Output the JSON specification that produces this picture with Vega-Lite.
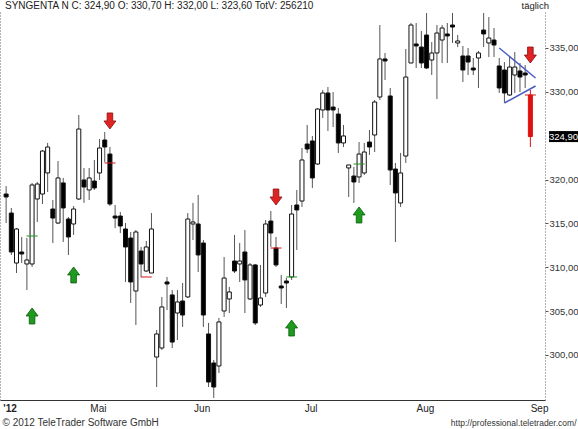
{
  "$schema": "https://vega.github.io/schema/vega-lite/v6.json",
  "width": 545,
  "height": 388,
  "autosize": {"type": "none"},
  "padding": {"left": 0, "top": 12, "right": 33, "bottom": 29},
  "background": "white",
  "config": {"view": {"stroke": null}, "font": "Liberation Sans"},
  "title": {"text": "SYNGENTA N C: 324,90 O: 330,70 H: 332,00 L: 323,60 TotV: 256210", "anchor": "start", "frame": "group", "offset": 1, "dy": 12, "fontSize": 10, "fontWeight": "normal", "color": "#222", "dx": 5, "font": "Liberation Sans"},
  "datasets": {
    "candles": [
      {"date":"2012-04-04","open":318.35,"high":319.26,"low":315.04,"close":318.01},
      {"date":"2012-04-05","open":316.18,"high":316.76,"low":311.40,"close":311.74},
      {"date":"2012-04-10","open":310.48,"high":314.47,"low":309.34,"close":314.36},
      {"date":"2012-04-11","open":311.74,"high":313.45,"low":310.48,"close":311.51},
      {"date":"2012-04-12","open":310.37,"high":313.33,"low":307.40,"close":310.83},
      {"date":"2012-04-13","open":310.37,"high":319.61,"low":310.03,"close":319.38},
      {"date":"2012-04-16","open":317.78,"high":319.72,"low":315.16,"close":319.49},
      {"date":"2012-04-17","open":318.35,"high":323.37,"low":317.21,"close":323.25},
      {"date":"2012-04-18","open":320.75,"high":324.17,"low":318.58,"close":323.71},
      {"date":"2012-04-19","open":316.64,"high":317.67,"low":312.76,"close":315.61},
      {"date":"2012-04-20","open":315.04,"high":322.11,"low":314.93,"close":320.18},
      {"date":"2012-04-23","open":319.61,"high":320.18,"low":312.88,"close":316.76},
      {"date":"2012-04-24","open":315.50,"high":315.73,"low":311.40,"close":313.45},
      {"date":"2012-04-25","open":314.93,"high":316.98,"low":313.68,"close":316.64},
      {"date":"2012-04-26","open":317.78,"high":327.36,"low":317.67,"close":325.76},
      {"date":"2012-04-27","open":319.95,"high":321.32,"low":317.33,"close":319.15},
      {"date":"2012-04-30","open":318.81,"high":321.32,"low":317.67,"close":320.18},
      {"date":"2012-05-02","open":319.83,"high":322.23,"low":318.81,"close":319.04},
      {"date":"2012-05-03","open":320.75,"high":324.62,"low":319.95,"close":323.60},
      {"date":"2012-05-04","open":324.51,"high":325.42,"low":322.00,"close":323.71},
      {"date":"2012-05-07","open":322.91,"high":323.71,"low":316.98,"close":317.21},
      {"date":"2012-05-08","open":315.84,"high":317.10,"low":314.47,"close":315.61},
      {"date":"2012-05-09","open":315.84,"high":316.30,"low":313.90,"close":314.70},
      {"date":"2012-05-10","open":314.36,"high":315.04,"low":308.32,"close":312.31},
      {"date":"2012-05-11","open":313.33,"high":314.02,"low":305.92,"close":308.32},
      {"date":"2012-05-14","open":307.29,"high":314.25,"low":303.41,"close":314.02},
      {"date":"2012-05-15","open":311.85,"high":312.31,"low":308.89,"close":310.37},
      {"date":"2012-05-16","open":309.57,"high":312.99,"low":309.46,"close":312.31},
      {"date":"2012-05-18","open":309.34,"high":316.18,"low":309.34,"close":314.36},
      {"date":"2012-05-21","open":299.76,"high":302.84,"low":296.34,"close":302.39},
      {"date":"2012-05-22","open":300.79,"high":306.61,"low":300.56,"close":305.47},
      {"date":"2012-05-23","open":308.32,"high":308.89,"low":305.12,"close":308.09},
      {"date":"2012-05-24","open":306.84,"high":307.40,"low":300.79,"close":301.47},
      {"date":"2012-05-25","open":304.78,"high":307.40,"low":301.70,"close":306.04},
      {"date":"2012-05-29","open":306.15,"high":308.20,"low":303.19,"close":304.55},
      {"date":"2012-05-30","open":306.61,"high":316.18,"low":306.49,"close":315.50},
      {"date":"2012-05-31","open":314.93,"high":317.33,"low":313.11,"close":315.16},
      {"date":"2012-06-01","open":314.93,"high":318.24,"low":309.46,"close":311.40},
      {"date":"2012-06-04","open":312.76,"high":313.11,"low":303.19,"close":304.55},
      {"date":"2012-06-05","open":302.39,"high":303.64,"low":296.34,"close":296.91},
      {"date":"2012-06-06","open":299.08,"high":299.42,"low":295.09,"close":296.34},
      {"date":"2012-06-07","open":298.74,"high":304.21,"low":297.94,"close":303.76},
      {"date":"2012-06-08","open":305.01,"high":311.17,"low":304.33,"close":308.77},
      {"date":"2012-06-11","open":306.38,"high":307.75,"low":304.78,"close":307.18},
      {"date":"2012-06-12","open":310.71,"high":313.68,"low":309.34,"close":309.57},
      {"date":"2012-06-13","open":310.37,"high":312.76,"low":308.32,"close":310.71},
      {"date":"2012-06-14","open":311.74,"high":314.25,"low":304.78,"close":308.55},
      {"date":"2012-06-15","open":306.38,"high":310.48,"low":306.27,"close":310.26},
      {"date":"2012-06-18","open":310.26,"high":310.37,"low":303.41,"close":303.64},
      {"date":"2012-06-19","open":305.69,"high":310.26,"low":305.47,"close":306.49},
      {"date":"2012-06-20","open":307.06,"high":315.39,"low":306.61,"close":314.93},
      {"date":"2012-06-21","open":315.27,"high":316.41,"low":312.31,"close":313.90},
      {"date":"2012-06-22","open":312.19,"high":313.45,"low":310.03,"close":310.26},
      {"date":"2012-06-25","open":307.86,"high":309.12,"low":305.81,"close":307.63},
      {"date":"2012-06-26","open":308.43,"high":308.77,"low":305.35,"close":308.20},
      {"date":"2012-06-27","open":308.89,"high":317.10,"low":308.55,"close":316.07},
      {"date":"2012-06-28","open":317.10,"high":318.81,"low":311.97,"close":316.53},
      {"date":"2012-06-29","open":317.55,"high":323.60,"low":316.87,"close":322.23},
      {"date":"2012-07-02","open":324.05,"high":326.22,"low":323.03,"close":323.48},
      {"date":"2012-07-03","open":324.40,"high":324.97,"low":319.04,"close":320.18},
      {"date":"2012-07-04","open":321.77,"high":328.16,"low":321.66,"close":328.04},
      {"date":"2012-07-05","open":327.93,"high":330.21,"low":327.02,"close":329.87},
      {"date":"2012-07-06","open":329.87,"high":330.55,"low":325.54,"close":327.93},
      {"date":"2012-07-09","open":328.27,"high":329.98,"low":325.99,"close":327.93},
      {"date":"2012-07-10","open":327.47,"high":328.16,"low":323.03,"close":324.17},
      {"date":"2012-07-11","open":324.17,"high":326.22,"low":323.71,"close":324.97},
      {"date":"2012-07-12","open":321.32,"high":321.66,"low":318.01,"close":321.66},
      {"date":"2012-07-13","open":320.40,"high":321.43,"low":317.33,"close":319.72},
      {"date":"2012-07-16","open":320.29,"high":324.28,"low":319.61,"close":322.91},
      {"date":"2012-07-17","open":320.75,"high":324.17,"low":320.52,"close":323.14},
      {"date":"2012-07-18","open":324.28,"high":325.65,"low":322.80,"close":323.71},
      {"date":"2012-07-19","open":325.08,"high":329.07,"low":323.14,"close":328.84},
      {"date":"2012-07-20","open":329.41,"high":337.62,"low":329.07,"close":333.75},
      {"date":"2012-07-23","open":333.75,"high":334.43,"low":331.35,"close":333.52},
      {"date":"2012-07-24","open":329.53,"high":330.44,"low":319.38,"close":321.09},
      {"date":"2012-07-25","open":321.20,"high":321.89,"low":312.88,"close":318.47},
      {"date":"2012-07-26","open":317.33,"high":323.03,"low":316.87,"close":320.75},
      {"date":"2012-07-27","open":322.68,"high":334.89,"low":321.89,"close":331.69},
      {"date":"2012-07-30","open":333.29,"high":337.85,"low":333.29,"close":337.62},
      {"date":"2012-07-31","open":335.46,"high":337.85,"low":332.72,"close":335.23},
      {"date":"2012-08-02","open":335.11,"high":336.94,"low":332.72,"close":333.29},
      {"date":"2012-08-03","open":336.48,"high":338.99,"low":332.60,"close":332.72},
      {"date":"2012-08-06","open":333.63,"high":335.68,"low":331.92,"close":334.43},
      {"date":"2012-08-07","open":334.43,"high":337.62,"low":329.18,"close":336.71},
      {"date":"2012-08-08","open":335.91,"high":337.62,"low":333.29,"close":337.28},
      {"date":"2012-08-09","open":336.60,"high":337.85,"low":333.29,"close":336.37},
      {"date":"2012-08-10","open":337.62,"high":338.99,"low":335.57,"close":337.39},
      {"date":"2012-08-13","open":335.57,"high":336.48,"low":335.11,"close":335.80},
      {"date":"2012-08-14","open":334.09,"high":335.23,"low":331.12,"close":332.49},
      {"date":"2012-08-15","open":334.09,"high":335.00,"low":331.92,"close":333.40},
      {"date":"2012-08-16","open":332.72,"high":333.86,"low":331.92,"close":332.49},
      {"date":"2012-08-17","open":333.86,"high":334.66,"low":330.44,"close":334.43},
      {"date":"2012-08-20","open":337.05,"high":338.99,"low":335.11,"close":336.60},
      {"date":"2012-08-21","open":335.57,"high":338.53,"low":333.97,"close":336.14},
      {"date":"2012-08-22","open":335.91,"high":337.28,"low":333.97,"close":335.34},
      {"date":"2012-08-23","open":332.95,"high":333.86,"low":329.87,"close":330.44},
      {"date":"2012-08-24","open":332.49,"high":333.40,"low":328.73,"close":329.87},
      {"date":"2012-08-27","open":329.64,"high":333.97,"low":329.53,"close":332.83},
      {"date":"2012-08-28","open":331.92,"high":334.54,"low":329.87,"close":332.83},
      {"date":"2012-08-29","open":332.38,"high":333.29,"low":329.98,"close":331.69},
      {"date":"2012-08-30","open":332.15,"high":333.06,"low":330.44,"close":331.92},
      {"date":"2012-08-31","open":329.64,"high":330.21,"low":323.71,"close":324.90}
    ],
    "signals": [
      {"date":"2012-04-13","kind":"buy","price":304.44},
      {"date":"2012-04-25","kind":"buy","price":309.12},
      {"date":"2012-05-07","kind":"sell","price":326.68},
      {"date":"2012-06-22","kind":"sell","price":318.01},
      {"date":"2012-06-27","kind":"buy","price":303.07},
      {"date":"2012-07-16","kind":"buy","price":315.96},
      {"date":"2012-08-31","kind":"sell","price":334.20}
    ],
    "levels": [
      {"date":"2012-04-13","kind":"buy","price":313.56},
      {"date":"2012-05-07","kind":"sell","price":321.89},
      {"date":"2012-05-16","kind":"sell","price":308.89},
      {"date":"2012-06-22","kind":"sell","price":312.19},
      {"date":"2012-06-27","kind":"buy","price":308.89},
      {"date":"2012-07-16","kind":"buy","price":321.77},
      {"date":"2012-08-31","kind":"sell","price":329.64}
    ],
    "trend": [
      {"date":"2012-08-23","price":335.0,"date2":"2012-09-03","price2":331.58},
      {"date":"2012-08-24","price":328.73,"date2":"2012-09-03","price2":330.67}
    ],
    "last": [
      {"date":"2012-09-03","price":324.9,"label":"324,90"}
    ]
  },
  "resolve": {"axis": {"y": "independent"}},
  "layer": [
    {
      "data": {"name": "candles"},
      "mark": {"type": "rule", "strokeWidth": 1},
      "encoding": {
        "x": {"field": "date", "type": "ordinal",
          "scale": {"paddingInner": 0, "paddingOuter": 1.35, "align": 0.34},
          "axis": {
            "values": ["2012-04-04","2012-05-02","2012-06-01","2012-07-02","2012-08-02","2012-09-03"],
            "labelExpr": "datum.value == '2012-04-04' ? \"'12\" : datum.value == '2012-05-02' ? 'Mai' : datum.value == '2012-06-01' ? 'Jun' : datum.value == '2012-07-02' ? 'Jul' : datum.value == '2012-08-02' ? 'Aug' : 'Sep'",
            "labelFontWeight": {"condition": {"test": "datum.value == '2012-04-04'", "value": "bold"}, "value": "normal"},
            "ticks": false, "grid": false, "domainColor": "#333", "domainWidth": 1,
            "labelAngle": 0, "labelAlign": "center", "labelOffset": 4, "labelPadding": 3, "labelFontSize": 10, "labelFont": "Liberation Sans", "labelColor": "#222",
            "labelOverlap": false, "labelBound": false,
            "title": "© 2012 TeleTrader Software GmbH", "titleX": 2, "titleY": 25, "titleAlign": "left", "titleAnchor": "start", "titleBaseline": "alphabetic",
            "titleFontSize": 10, "titleFontWeight": "normal", "titleFont": "Liberation Sans", "titleColor": "#333"
          }
        },
        "y": {"field": "low", "type": "quantitative",
          "scale": {"domain": [294.86, 339.105], "nice": false, "zero": false},
          "axis": {"orient": "left", "labels": false, "ticks": false, "grid": false, "domainDash": [1, 2], "domainColor": "#666",
            "title": "täglich", "titleAngle": 0, "titleX": 521, "titleY": -2, "titleAlign": "left", "titleBaseline": "bottom",
            "titleFontSize": 9.5, "titleFontWeight": "normal", "titleFont": "Liberation Sans", "titleColor": "#222"}
        },
        "y2": {"field": "high"},
        "color": {"condition": {"test": "datum.date == '2012-08-31'", "value": "#e01010"}, "value": "#555555"}
      }
    },
    {
      "data": {"name": "candles"},
      "mark": {"type": "bar", "size": 4, "strokeWidth": 1},
      "encoding": {
        "x": {"field": "date", "type": "ordinal"},
        "y": {"field": "open", "type": "quantitative",
          "axis": {"orient": "right", "values": [300, 305, 310, 315, 320, 330, 335],
            "labelExpr": "replace(format(datum.value, '.2f'), '.', ',')",
            "ticks": true, "tickSize": 3, "tickColor": "#555", "domainDash": [1, 2], "domainColor": "#666", "grid": false,
            "labelPadding": 1, "labelFontSize": 9.5, "labelFont": "Liberation Sans", "labelColor": "#333",
            "title": "http://professional.teletrader.com/", "titleAngle": 0, "titleX": 31, "titleY": 413, "titleAlign": "right", "titleBaseline": "alphabetic",
            "titleFontSize": 8.5, "titleFontWeight": "normal", "titleFont": "Liberation Sans", "titleColor": "#333"}
        },
        "y2": {"field": "close"},
        "fill": {"condition": [
          {"test": "datum.date == '2012-08-31'", "value": "#e01010"},
          {"test": "datum.close >= datum.open", "value": "#ffffff"}
        ], "value": "#000000"},
        "stroke": {"condition": {"test": "datum.date == '2012-08-31'", "value": "#e01010"}, "value": "#111111"}
      }
    },
    {
      "data": {"name": "levels"},
      "mark": {"type": "tick", "size": 11, "thickness": 1.5},
      "encoding": {
        "x": {"field": "date", "type": "ordinal"},
        "y": {"field": "price", "type": "quantitative", "axis": null},
        "color": {"condition": {"test": "datum.kind == 'buy'", "value": "#2a9a2a"}, "value": "#d42020"}
      }
    },
    {
      "data": {"name": "trend"},
      "mark": {"type": "rule", "strokeWidth": 1.5, "color": "#4a5cc4"},
      "encoding": {
        "x": {"field": "date", "type": "ordinal"},
        "x2": {"field": "date2"},
        "y": {"field": "price", "type": "quantitative", "axis": null},
        "y2": {"field": "price2"}
      }
    },
    {
      "data": {"name": "signals"},
      "mark": {"type": "point", "filled": true, "size": 256, "strokeWidth": 0.8, "opacity": 1},
      "encoding": {
        "x": {"field": "date", "type": "ordinal"},
        "y": {"field": "price", "type": "quantitative", "axis": null},
        "shape": {"condition": {"test": "datum.kind == 'buy'", "value": "M-0.35,1L0.35,1L0.35,0L0.75,0L0,-1L-0.75,0L-0.35,0Z"}, "value": "M-0.35,-1L0.35,-1L0.35,0L0.75,0L0,1L-0.75,0L-0.35,0Z"},
        "fill": {"condition": {"test": "datum.kind == 'buy'", "value": "#1e9a1e"}, "value": "#e02424"},
        "stroke": {"condition": {"test": "datum.kind == 'buy'", "value": "#0b5a0b"}, "value": "#8a0c0c"}
      }
    },
    {
      "data": {"name": "last"},
      "mark": {"type": "point", "filled": true, "size": 400, "xOffset": 28, "color": "#000000", "opacity": 1, "shape": "M-1.45,-0.55H1.45V0.55H-1.45Z"},
      "encoding": {
        "x": {"field": "date", "type": "ordinal"},
        "y": {"field": "price", "type": "quantitative", "axis": null}
      }
    },
    {
      "data": {"name": "last"},
      "mark": {"type": "text", "xOffset": 28, "color": "#ffffff", "fontSize": 9.5, "font": "Liberation Sans", "align": "center", "baseline": "middle"},
      "encoding": {
        "x": {"field": "date", "type": "ordinal"},
        "y": {"field": "price", "type": "quantitative", "axis": null},
        "text": {"field": "label"}
      }
    }
  ]
}
